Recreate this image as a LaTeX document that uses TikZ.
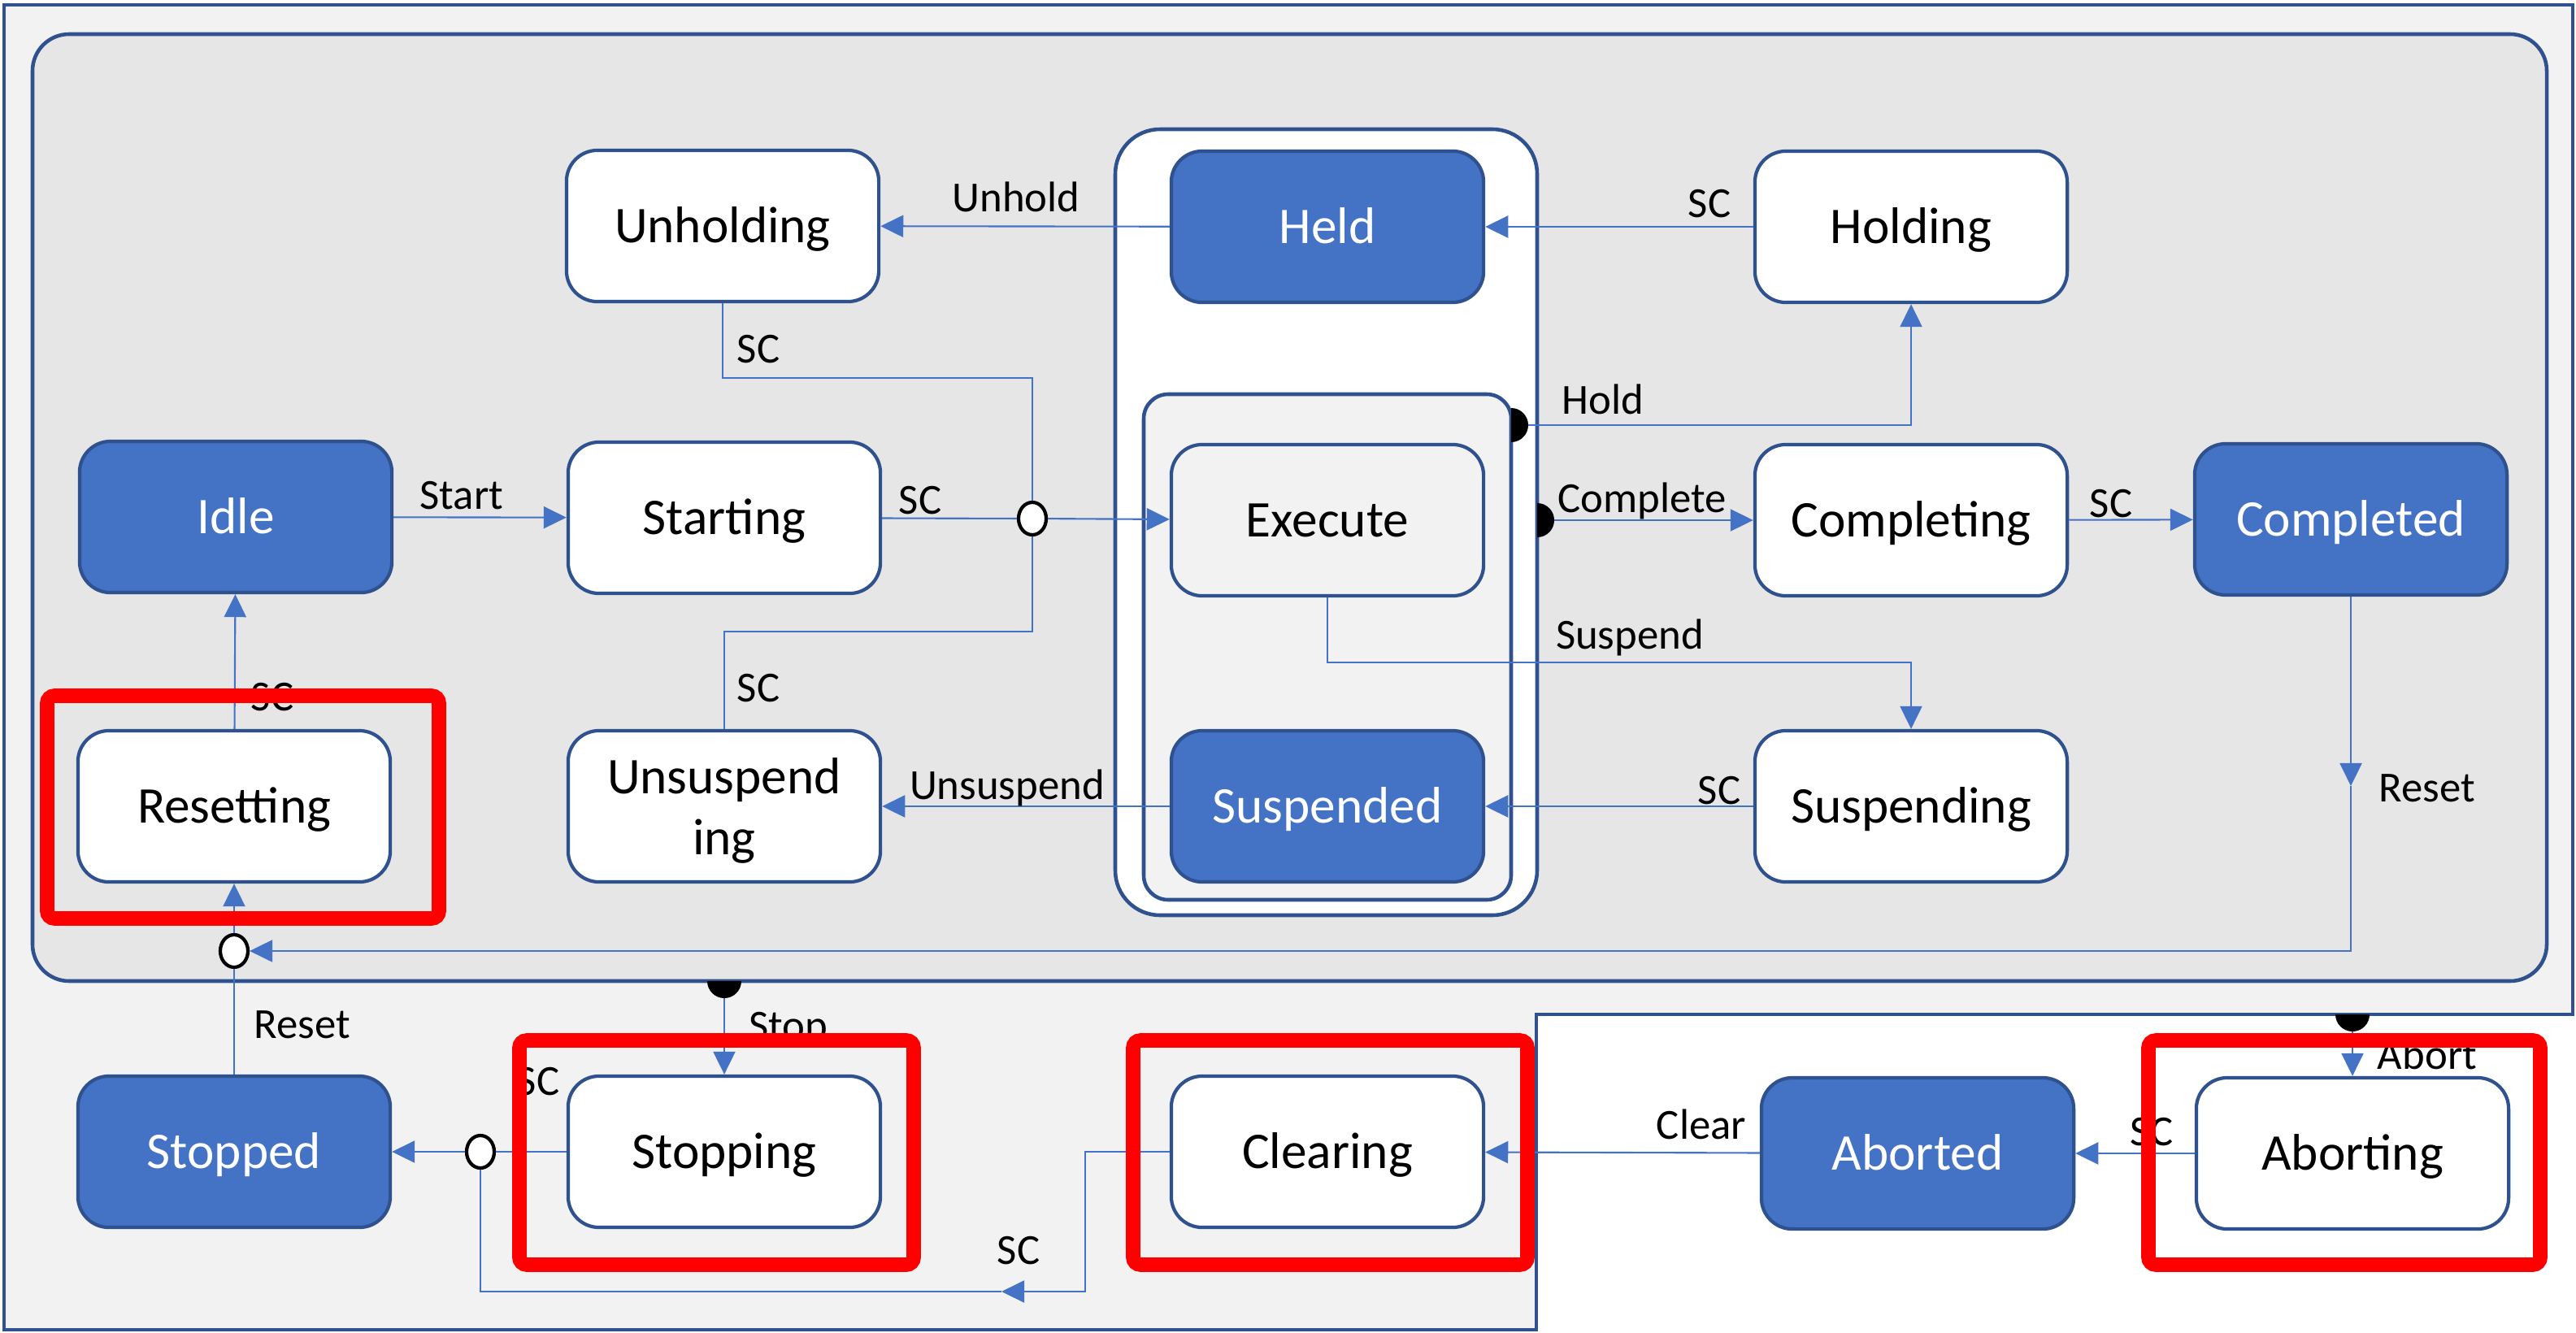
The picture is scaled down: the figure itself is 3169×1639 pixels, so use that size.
\documentclass[tikz,border=0pt]{standalone}
\usepackage{fontspec}
\setmainfont{Carlito}
\usetikzlibrary{arrows.meta,shapes.geometric}

\definecolor{stateblue}{HTML}{4472C4}
\definecolor{stateedge}{HTML}{2F528F}
\definecolor{outergray}{HTML}{F2F2F2}
\definecolor{innergray}{HTML}{E6E6E6}

\tikzset{
  stbox/.style={draw=stateedge, line width=1.2pt, rounded corners=0.38cm,
    minimum width=3.84cm, minimum height=1.86cm, fill=white,
    font=\fontsize{18}{21.6}\selectfont, align=center},
  state/.style={stbox, text height=16.4pt, text depth=4.5pt},
  busy/.style={state, fill=stateblue, text=white},
  conn/.style={draw=stateblue, line width=0.6pt, -{Triangle[length=0.28cm,width=0.27cm]}},
  wire/.style={draw=stateblue, line width=0.6pt},
  junc/.style={ellipse, draw=black, line width=1.2pt, fill=white,
    minimum width=0.34cm, minimum height=0.40cm, inner sep=0pt},
  lbl/.style={font=\fontsize{15}{18}\selectfont, inner sep=0pt, anchor=base},
  frame/.style={draw=stateedge, line width=1.3pt},
  hilite/.style={draw=red, line width=5pt, rounded corners=0.09cm},
}

\begin{document}
\begin{tikzpicture}[x=0.01cm, y=-0.01cm]
\useasboundingbox (0,0) rectangle (3169,1639);
% frames
\filldraw[frame, fill=outergray] (5,6) -- (3165,6) -- (3165,1248) -- (1890,1248) -- (1890,1636) -- (5,1636) -- cycle;
\filldraw[frame, fill=innergray, rounded corners=0.45cm] (40,42) rectangle (3133,1207);
\filldraw[frame, fill=white, rounded corners=0.55cm] (1372,159) rectangle (1891,1126);
\filldraw[frame, fill=outergray, rounded corners=0.3cm] (1407,485) rectangle (1859,1107);
% states
\node[state] (unholding) at (889,278) {Unholding};
\node[busy] (held) at (1633,279) {Held};
\node[state] (holding) at (2351,279) {Holding};
\node[busy] (idle) at (290,636) {Idle};
\node[state] (starting) at (891,637) {Starting};
\node[state, fill=outergray] (execute) at (1633,640) {Execute};
\node[state] (completing) at (2351,640) {Completing};
\node[busy] (completed) at (2892,639) {Completed};
\node[state] (resetting) at (288,992) {Resetting};
\node[stbox, text depth=0pt] (unsuspending) at (891,992) {Unsuspend\\ing};
\node[busy] (suspended) at (1633,992) {Suspended};
\node[state] (suspending) at (2351,992) {Suspending};
\node[busy] (stopped) at (288,1417) {Stopped};
\node[state] (stopping) at (891,1417) {Stopping};
\node[state] (clearing) at (1633,1417) {Clearing};
\node[busy] (aborted) at (2359,1419) {Aborted};
\node[state] (aborting) at (2894,1419) {Aborting};
% junctions
\node[junc] (jStart) at (1270,638) {};
\node[junc] (jReset) at (288,1170) {};
\node[junc] (jStop) at (591,1417) {};
\coordinate (holdX) at (1859,523);
\coordinate (complX) at (1891,640);
\coordinate (stopX) at (891,1207);
\coordinate (abortX) at (2894,1248);
\coordinate (uhBend) at (1270,465);
\coordinate (usBend) at (1270,777);
\coordinate (suspBend) at (1633,815);
\coordinate (resetMid) at (2892,967);
\coordinate (clBend) at (1335,1417);
\coordinate (clMid) at (1232,1589);
% transitions
\draw[conn] (held) -- (unholding);
\draw[conn] (holding) -- (held);
\draw[conn] (holdX) -| (holding);
\draw[conn] (complX) -- (completing);
\draw[conn] (completing) -- (completed);
\draw[conn] (completed) -- (resetMid);
\draw[conn] (resetMid) |- (jReset);
\draw[conn] (execute) -- (suspBend) -| (suspending);
\draw[conn] (suspending) -- (suspended);
\draw[conn] (suspended) -- (unsuspending);
\draw[wire] (unholding) |- (uhBend) -- (jStart);
\draw[wire] (unsuspending) |- (usBend) -- (jStart);
\draw[wire] (starting) -- (jStart);
\draw[conn] (jStart) -- (execute);
\draw[conn] (idle) -- (starting);
\draw[conn] (resetting) -- (idle);
\draw[conn] (jReset) -- (resetting);
\draw[wire] (stopped) -- (jReset);
\draw[conn] (stopX) -- (stopping);
\draw[wire] (stopping) -- (jStop);
\draw[conn] (jStop) -- (stopped);
\draw[conn] (clearing) -- (clBend) |- (clMid);
\draw[wire] (clMid) -| (jStop);
\draw[conn] (aborted) -- (clearing);
\draw[conn] (aborting) -- (aborted);
\draw[conn] (abortX) -- (aborting);
% exit points
\fill (holdX) ++(0,21) arc[start angle=-90, end angle=90, radius=0.21cm] -- cycle;
\fill (complX) ++(0,21) arc[start angle=-90, end angle=90, radius=0.21cm] -- cycle;
\fill (stopX) ++(-21,0) arc[start angle=180, end angle=360, radius=0.21cm] -- cycle;
\fill (abortX) ++(-21,0) arc[start angle=180, end angle=360, radius=0.21cm] -- cycle;
% labels
\node[lbl] (lUnhold) at (1250,260) {Unhold};
\node[lbl] (lHeldSC) at (2103,267) {SC};
\node[lbl] (lHold) at (1972,509) {Hold};
\node[lbl] (lComplete) at (2020,630) {Complete};
\node[lbl] (lCompSC) at (2597,636) {SC};
\node[lbl] (lSuspend) at (2005,798) {Suspend};
\node[lbl] (lSuspSC) at (2115,989) {SC};
\node[lbl] (lUnsuspend) at (1239,983) {Unsuspend};
\node[lbl] (lResetR) at (2986,986) {Reset};
\node[lbl] (lUhSC) at (933,446) {SC};
\node[lbl] (lUsSC) at (933,863) {SC};
\node[lbl] (lStartSC) at (1132,632) {SC};
\node[lbl] (lStart) at (568,626) {Start};
\node[lbl] (lResetSC) at (335,874) {SC};
\node[lbl] (lResetL) at (372,1277) {Reset};
\node[lbl] (lStop) at (970,1279) {Stop};
\node[lbl] (lStopSC) at (662,1347) {SC};
\node[lbl] (lClearSC) at (1253,1555) {SC};
\node[lbl] (lClear) at (2093,1401) {Clear};
\node[lbl] (lAbortSC) at (2647,1409) {SC};
\node[lbl] (lAbort) at (2986,1315) {Abort};
% highlights
\draw[hilite] (58,856) rectangle (540,1130);
\draw[hilite] (639,1280) rectangle (1124,1556);
\draw[hilite] (1394,1280) rectangle (1879,1556);
\draw[hilite] (2643,1280) rectangle (3125,1556);
\end{tikzpicture}
\end{document}
